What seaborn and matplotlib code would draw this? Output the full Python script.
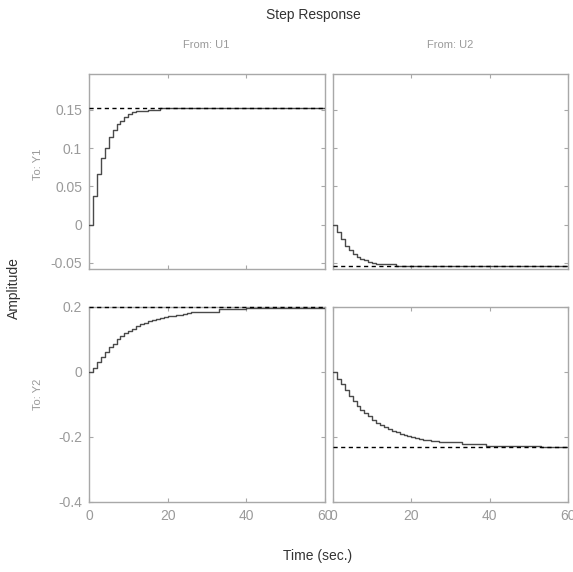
import numpy as np
import pandas as pd
import matplotlib
matplotlib.use("Agg")
import matplotlib.pyplot as plt
import seaborn as sns

# step response samples, dt = 1 s, t = 0..60
t = np.arange(0, 61)

u1_y1 = [0, 0.038, 0.066, 0.087, 0.1005, 0.115, 0.1244, 0.131, 0.136, 0.1406,
         0.1445, 0.147, 0.149, 0.149, 0.149, 0.1505, 0.1505, 0.1505, 0.1525, 0.1525,
         0.1525, 0.1525, 0.1525, 0.1525, 0.1525, 0.1525, 0.1525, 0.1525, 0.1525, 0.1525,
         0.1525, 0.1525, 0.1525, 0.1525, 0.1525, 0.1525, 0.1525, 0.1525, 0.1525, 0.1525,
         0.1525, 0.1525, 0.1525, 0.1525, 0.1525, 0.1525, 0.1525, 0.1525, 0.1525, 0.1525,
         0.1525, 0.1525, 0.1525, 0.1525, 0.1525, 0.1525, 0.1525, 0.1525, 0.1525, 0.1525, 0.1525]

u2_y1 = [0, -0.0095, -0.019, -0.028, -0.0335, -0.038, -0.042, -0.0444, -0.046, -0.0487,
         -0.0496, -0.051, -0.052, -0.052, -0.052, -0.052, -0.0544, -0.0544, -0.0544, -0.0544,
         -0.0544, -0.0544, -0.0544, -0.0544, -0.0544, -0.0544, -0.0544, -0.0544, -0.0544, -0.0544,
         -0.0544, -0.0544, -0.0544, -0.0544, -0.0544, -0.0544, -0.0544, -0.0544, -0.0544, -0.0544,
         -0.0544, -0.0544, -0.0544, -0.0544, -0.0544, -0.0544, -0.0544, -0.0544, -0.0544, -0.0544,
         -0.0544, -0.0544, -0.0544, -0.0544, -0.0544, -0.0544, -0.0544, -0.0544, -0.0544, -0.0544, -0.0544]

u1_y2 = [0, 0.0126, 0.0295, 0.0453, 0.060, 0.0758, 0.0863, 0.100, 0.1105, 0.119,
         0.1263, 0.1337, 0.140, 0.1463, 0.1516, 0.157, 0.160, 0.163, 0.167, 0.170,
         0.1737, 0.1737, 0.1768, 0.1768, 0.1795, 0.182, 0.1846, 0.1846, 0.1846, 0.1846,
         0.1846, 0.1846, 0.1846, 0.193, 0.193, 0.193, 0.193, 0.193, 0.193, 0.193,
         0.198, 0.198, 0.198, 0.198, 0.198, 0.198, 0.198, 0.198, 0.198, 0.198,
         0.198, 0.198, 0.198, 0.198, 0.198, 0.198, 0.198, 0.198, 0.198, 0.198, 0.198]

u2_y2 = [0, -0.0205, -0.038, -0.056, -0.075, -0.089, -0.105, -0.116, -0.126, -0.136,
         -0.147, -0.157, -0.164, -0.170, -0.176, -0.181, -0.186, -0.190, -0.194, -0.198,
         -0.201, -0.203, -0.206, -0.209, -0.209, -0.212, -0.212, -0.215, -0.215, -0.215,
         -0.215, -0.215, -0.215, -0.2225, -0.2225, -0.2225, -0.2225, -0.2225, -0.2225, -0.2265,
         -0.2265, -0.2265, -0.2265, -0.2265, -0.2265, -0.2265, -0.2265, -0.2265, -0.2265, -0.2265,
         -0.2265, -0.2265, -0.2265, -0.232, -0.232, -0.232, -0.232, -0.232, -0.232, -0.232, -0.232]

final_values = {"u1_y1": 0.1525, "u2_y1": -0.0544, "u1_y2": 0.1985, "u2_y2": -0.232}

x_ticks = [0, 20, 40, 60]
y1_ticks = [-0.05, 0, 0.05, 0.1, 0.15]
y1_labels = ["-0.05", "0", "0.05", "0.1", "0.15"]
y2_ticks = [-0.4, -0.2, 0, 0.2]
y2_labels = ["-0.4", "-0.2", "0", "0.2"]

sns.set_style("white")
plt.rcParams["font.family"] = ["Liberation Sans", "DejaVu Sans"]

grey = "#a8a8a8"
label_grey = "#9a9a9a"
dark = "#333333"

fig = plt.figure(figsize=(5.73, 5.72), dpi=100)
positions = {
    "u1_y1": [0.1553, 0.5297, 0.4119, 0.3409],
    "u2_y1": [0.5812, 0.5297, 0.4101, 0.3409],
    "u1_y2": [0.1553, 0.1224, 0.4119, 0.3409],
    "u2_y2": [0.5812, 0.1224, 0.4101, 0.3409],
}
series = {"u1_y1": u1_y1, "u2_y1": u2_y1, "u1_y2": u1_y2, "u2_y2": u2_y2}

for key, pos in positions.items():
    ax = fig.add_axes(pos)
    df = pd.DataFrame({"Time": t, "Amplitude": series[key]})
    sns.lineplot(data=df, x="Time", y="Amplitude", ax=ax, color="#4a4a4a",
                 linewidth=1.0, drawstyle="steps-post")
    ax.axhline(final_values[key], color="black", linestyle=(0, (3, 2.5)),
               linewidth=1.0, zorder=5, clip_on=False)
    ax.set_xlim(0, 60)
    ax.set_xticks(x_ticks)
    if key.endswith("y1"):
        ax.set_ylim(-0.058, 0.197)
        ax.set_yticks(y1_ticks)
        ax.set_yticklabels(y1_labels)
        ax.set_xticklabels([])
    else:
        ax.set_ylim(-0.4, 0.2)
        ax.set_yticks(y2_ticks)
        ax.set_yticklabels(y2_labels)
        ax.set_xticklabels([str(v) for v in x_ticks])
    if key.startswith("u2"):
        ax.set_yticklabels([])
    ax.set_xlabel("")
    ax.set_ylabel("")
    ax.tick_params(direction="in", length=3, width=0.8, color=grey,
                   labelcolor=label_grey, labelsize=10, top=True, right=True,
                   bottom=True, left=True, pad=5)
    for s in ax.spines.values():
        s.set_color(grey)
        s.set_linewidth(1.0)
        s.set_zorder(1)

fig.text(0.547, 0.974, "Step Response", ha="center", va="center", fontsize=10, color=dark)
fig.text(0.36, 0.921, "From: U1", ha="center", va="center", fontsize=8, color=label_grey)
fig.text(0.786, 0.921, "From: U2", ha="center", va="center", fontsize=8, color=label_grey)
fig.text(0.066, 0.712, "To: Y1", ha="center", va="center", rotation=90, fontsize=8, color=label_grey)
fig.text(0.066, 0.31, "To: Y2", ha="center", va="center", rotation=90, fontsize=8, color=label_grey)
fig.text(0.024, 0.497, "Amplitude", ha="center", va="center", rotation=90, fontsize=10, color=dark)
fig.text(0.555, 0.028, "Time (sec.)", ha="center", va="center", fontsize=10, color=dark)

plt.savefig("out.png", dpi=100)
